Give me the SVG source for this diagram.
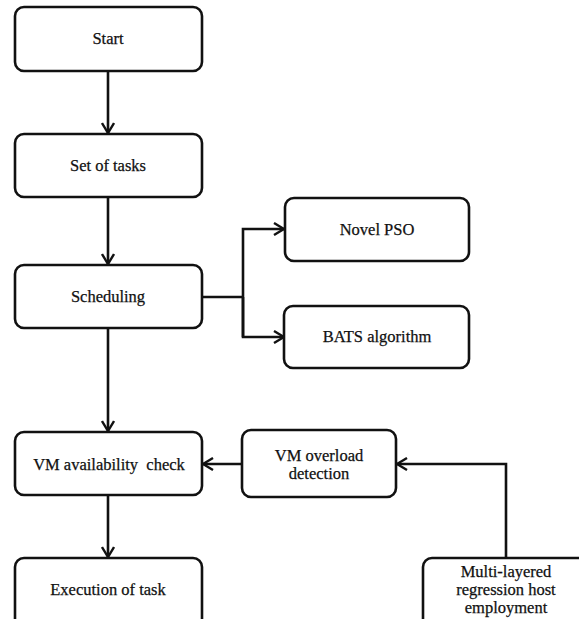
<svg xmlns="http://www.w3.org/2000/svg" width="579" height="619" viewBox="0 0 579 619">
<style>
.box{fill:#fff;stroke:#111;stroke-width:2.6}
.lbl{font-family:'Liberation Serif','DejaVu Serif',serif;font-size:16.5px;fill:#111;stroke:#111;stroke-width:0.25;text-anchor:middle}
.con{fill:none;stroke:#111;stroke-width:2.6}
</style>
<defs>
<marker id="arr" viewBox="0 0 12 14" refX="11" refY="7" markerWidth="12" markerHeight="14" markerUnits="userSpaceOnUse" orient="auto">
<path d="M1,1 L11,7 L1,13" fill="none" stroke="#111" stroke-width="2.4"/>
</marker>
</defs>
<rect width="579" height="619" fill="#fff"/>
<g id="connectors">
<line class="con" x1="108" y1="71" x2="108" y2="133" marker-end="url(#arr)"/>
<line class="con" x1="108" y1="197" x2="108" y2="264" marker-end="url(#arr)"/>
<line class="con" x1="108" y1="328" x2="108" y2="431" marker-end="url(#arr)"/>
<line class="con" x1="108" y1="495" x2="108" y2="557" marker-end="url(#arr)"/>
<polyline class="con" points="202,297 243,297"/>
<polyline class="con" points="243,337 243,229 284,229" marker-end="url(#arr)"/>
<polyline class="con" points="243,297 243,337 284,337" marker-end="url(#arr)"/>
<line class="con" x1="242" y1="464" x2="203" y2="464" marker-end="url(#arr)"/>
<polyline class="con" points="506,558 506,464 397,464" marker-end="url(#arr)"/>
</g>
<g id="start"><rect class="box" x="15" y="7" width="187" height="64" rx="9"/><text class="lbl" x="108" y="44">Start</text></g>
<g id="set-of-tasks"><rect class="box" x="15" y="134" width="187" height="63" rx="9"/><text class="lbl" x="108" y="171">Set of tasks</text></g>
<g id="scheduling"><rect class="box" x="15" y="265" width="187" height="63" rx="9"/><text class="lbl" x="108" y="302">Scheduling</text></g>
<g id="novel-pso"><rect class="box" x="285" y="198" width="184" height="63" rx="9"/><text class="lbl" x="377" y="235">Novel PSO</text></g>
<g id="bats"><rect class="box" x="284" y="306" width="185" height="62" rx="9"/><text class="lbl" x="377" y="342">BATS algorithm</text></g>
<g id="vm-availability"><rect class="box" x="15" y="432" width="187" height="63" rx="9"/><text class="lbl" x="109" y="470" xml:space="preserve">VM availability  check</text></g>
<g id="vm-overload"><rect class="box" x="242" y="430" width="154" height="67" rx="9"/><text class="lbl" x="319" y="461">VM overload</text><text class="lbl" x="319" y="479">detection</text></g>
<g id="execution"><rect class="box" x="15" y="558" width="187" height="70" rx="9"/><text class="lbl" x="108" y="595">Execution of task</text></g>
<g id="multi-layered"><rect class="box" x="423" y="558" width="170" height="70" rx="9"/><text class="lbl" x="506" y="577">Multi-layered</text><text class="lbl" x="506" y="595">regression host</text><text class="lbl" x="506" y="613">employment</text></g>
</svg>
